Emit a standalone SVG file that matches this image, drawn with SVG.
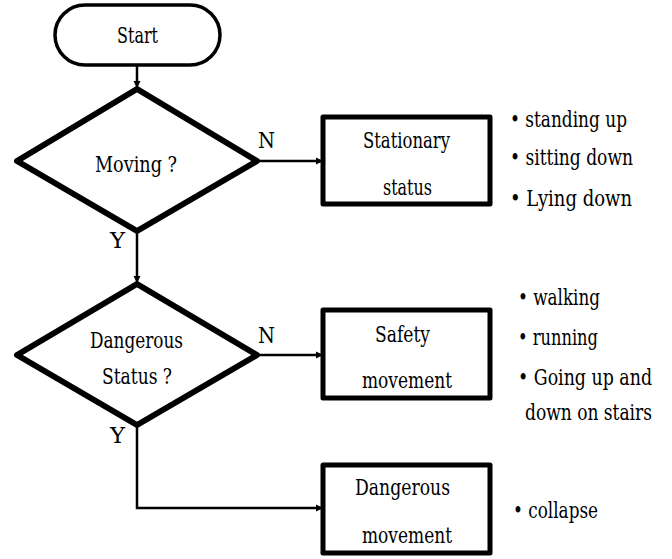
<svg xmlns="http://www.w3.org/2000/svg" width="672" height="559" viewBox="0 0 672 559">
<style>
text{font-family:'DejaVu Serif Condensed','DejaVu Serif',serif;font-size:23px;fill:#000}
.box{fill:#fff;stroke:#000;stroke-width:5;stroke-linejoin:round}
.dia{fill:#fff;stroke:#000;stroke-width:6;stroke-linejoin:round}
.term{fill:#fff;stroke:#000;stroke-width:3.5}
.line{fill:none;stroke:#000;stroke-width:2.5}
</style>
<defs>
<marker id="ah" viewBox="0 0 10 10" refX="10" refY="5" markerWidth="3" markerHeight="3" orient="auto" markerUnits="strokeWidth">
<path d="M0,0 L10,5 L0,10 z" fill="#000"/>
</marker>
</defs>
<g id="connectors">
<line class="line" x1="137" y1="65" x2="137" y2="88" marker-end="url(#ah)"/>
<line class="line" x1="257" y1="161" x2="323" y2="161" marker-end="url(#ah)"/>
<line class="line" x1="137" y1="231" x2="137" y2="283" marker-end="url(#ah)"/>
<line class="line" x1="257" y1="355" x2="323" y2="355" marker-end="url(#ah)"/>
<polyline class="line" points="137,425 137,508 323,508" marker-end="url(#ah)"/>
<text x="258" y="148" textLength="17" lengthAdjust="spacingAndGlyphs">N</text>
<text x="110" y="248" textLength="15" lengthAdjust="spacingAndGlyphs">Y</text>
<text x="258" y="343" textLength="17" lengthAdjust="spacingAndGlyphs">N</text>
<text x="110" y="443" textLength="15" lengthAdjust="spacingAndGlyphs">Y</text>
</g>
<g id="start">
<rect class="term" x="55" y="5" width="165" height="60" rx="30" ry="30"/>
<text x="117" y="43" textLength="41" lengthAdjust="spacingAndGlyphs">Start</text>
</g>
<g id="moving">
<polygon class="dia" points="137,89 257,161 137,231 17,161"/>
<text x="95" y="172" textLength="82" lengthAdjust="spacingAndGlyphs">Moving ?</text>
</g>
<g id="stationary">
<rect class="box" x="323" y="117" width="167" height="87"/>
<text x="363" y="148" textLength="87" lengthAdjust="spacingAndGlyphs">Stationary</text>
<text x="383" y="195" textLength="49" lengthAdjust="spacingAndGlyphs">status</text>
</g>
<g id="stationary-notes">
<text x="510" y="127" textLength="117" lengthAdjust="spacingAndGlyphs">• standing up</text>
<text x="510" y="165" textLength="123" lengthAdjust="spacingAndGlyphs">• sitting down</text>
<text x="510" y="206" textLength="122" lengthAdjust="spacingAndGlyphs">• Lying down</text>
</g>
<g id="dangerous-status">
<polygon class="dia" points="137,284 257,355 137,425 17,355"/>
<text x="90" y="348" textLength="93" lengthAdjust="spacingAndGlyphs">Dangerous</text>
<text x="102" y="384" textLength="70" lengthAdjust="spacingAndGlyphs">Status ?</text>
</g>
<g id="safety">
<rect class="box" x="323" y="310" width="167" height="88"/>
<text x="375" y="342" textLength="55" lengthAdjust="spacingAndGlyphs">Safety</text>
<text x="362" y="388" textLength="90" lengthAdjust="spacingAndGlyphs">movement</text>
</g>
<g id="safety-notes">
<text x="518" y="305" textLength="82" lengthAdjust="spacingAndGlyphs">• walking</text>
<text x="518" y="345" textLength="80" lengthAdjust="spacingAndGlyphs">• running</text>
<text transform="translate(518,385) scale(0.75,1)" x="0" y="0" textLength="178.7" lengthAdjust="spacingAndGlyphs">• Going up and</text>
<text transform="translate(525,420) scale(0.75,1)" x="0" y="0" textLength="169.3" lengthAdjust="spacingAndGlyphs">down on stairs</text>
</g>
<g id="dangerous">
<rect class="box" x="323" y="465" width="167" height="88"/>
<text x="355" y="495" textLength="95" lengthAdjust="spacingAndGlyphs">Dangerous</text>
<text x="362" y="543" textLength="90" lengthAdjust="spacingAndGlyphs">movement</text>
</g>
<g id="dangerous-notes">
<text x="513" y="518" textLength="85" lengthAdjust="spacingAndGlyphs">• collapse</text>
</g>
</svg>
